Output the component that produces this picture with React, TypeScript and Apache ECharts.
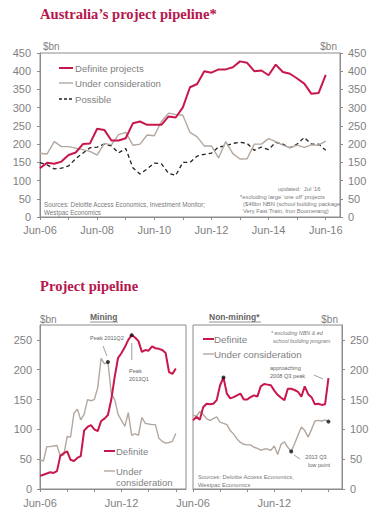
import React, { useEffect, useRef } from 'react';
import * as echarts from 'echarts';

const QUARTERS = ['Jun-06','Sep-06','Dec-06','Mar-07','Jun-07','Sep-07','Dec-07','Mar-08','Jun-08','Sep-08','Dec-08','Mar-09','Jun-09','Sep-09','Dec-09','Mar-10','Jun-10','Sep-10','Dec-10','Mar-11','Jun-11','Sep-11','Dec-11','Mar-12','Jun-12','Sep-12','Dec-12','Mar-13','Jun-13','Sep-13','Dec-13','Mar-14','Jun-14','Sep-14','Dec-14','Mar-15','Jun-15','Sep-15','Dec-15','Mar-16','Jun-16','Sep-16','Dec-16','Mar-17','Jun-17'];
const TOP_CATEGORIES = QUARTERS.slice(0, 43);
const MINING_CATEGORIES = QUARTERS.slice(0, 44);
const NONMINING_CATEGORIES = QUARTERS.slice(0, 45);

const TOP_Y_MAX = 450;
const TOP_Y_STEP = 50;
const BOTTOM_Y_TICKS = [0, 50, 100, 150, 200, 250];
const BOTTOM_Y_MAX = 275;

// Australia's project pipeline ($bn), quarterly Jun-06 .. Jun-16
const topDefinite = [134,149,146,152,170,177,200,202,242,239,210,210,216,257,262,253,253,253,276,273,301,356,365,400,396,405,405,411,427,423,400,402,389,418,398,393,380,366,338,340,390];
const topUnder = [175,173,207,193,193,189,185,180,170,202,198,226,232,197,200,225,223,262,285,281,279,232,220,195,195,162,207,174,159,160,200,200,215,207,197,190,197,191,198,197,208];
const topPossible = [149,143,132,134,140,160,175,190,192,200,195,176,188,135,118,132,148,146,120,114,150,150,167,172,175,192,195,202,205,202,183,192,185,205,200,190,200,218,200,200,183];

// Mining
const miningDefinite = [22,24,26,28,27,30,56,60,63,49,47,52,55,98,104,107,100,97,114,118,124,150,188,220,228,238,250,258,254,248,230,233,232,239,236,235,233,228,196,193,202];
const miningUnder = [49,47,71,71,72,73,55,57,88,87,127,134,116,125,150,148,150,170,219,210,213,160,150,125,115,105,128,90,93,90,120,110,109,108,108,85,80,77,78,80,93];
const MINING_UNDER_DOTS = [20];
const MINING_DEFINITE_DOTS = [27];

// Non-mining
const nonMiningDefinite = [115,121,116,137,143,142,143,149,174,187,160,152,154,157,160,150,150,154,157,155,172,176,175,174,165,158,153,149,168,168,166,163,155,172,159,154,142,143,141,142,186];
const nonMiningUnder = [124,122,130,125,118,115,118,121,112,110,108,98,92,84,78,75,74,74,70,68,65,67,67,65,72,58,75,79,70,63,76,90,104,98,87,100,114,115,114,116,113];
const NONMINING_DEFINITE_DOTS = [9];
const NONMINING_UNDER_DOTS = [29, 40];

const RED = '#c8174b';
const TAUPE = '#b3a79e';
const AXIS = '#8c8c8c';
const LABEL = '#7f7f7f';
const NOTE = '#7a7a7a';
const TITLE = '#b5174d';
const SANS = '"Liberation Sans", Arial, sans-serif';
const SERIF = '"Liberation Serif", "Times New Roman", serif';

function txt(x: number, y: number, text: string, size: number, opts: any = {}) {
  return {
    type: 'text',
    x,
    y,
    z: 100,
    style: {
      text,
      fill: opts.fill || NOTE,
      fontSize: size,
      fontFamily: opts.family || SANS,
      fontWeight: opts.weight || 'normal',
      fontStyle: opts.style || 'normal',
      align: opts.align || 'left',
      verticalAlign: 'middle',
    },
  };
}
function ln(x1: number, y1: number, x2: number, y2: number, color: string, width = 1, dash?: number[]) {
  return {
    type: 'line',
    z: 100,
    shape: { x1, y1, x2, y2 },
    style: { stroke: color, lineWidth: width, lineDash: dash },
  };
}

function xAxisBase(gridIndex: number, data: string[], labelInterval: number, tickInterval: number, margin: number) {
  return {
    gridIndex,
    type: 'category',
    data,
    boundaryGap: false,
    axisLine: { show: true, lineStyle: { color: AXIS, width: 1 } },
    axisTick: { show: true, interval: tickInterval, length: 3, lineStyle: { color: AXIS } },
    axisLabel: { interval: labelInterval, color: LABEL, fontSize: 11, fontFamily: SANS, margin },
    splitLine: { show: false },
  };
}

export default function App() {
  const ref = useRef<HTMLDivElement>(null);
  useEffect(() => {
    if (!ref.current) return;
    const chart = echarts.init(ref.current, undefined, { renderer: 'svg' });
    const dots = (arr: number[], idx: number[]) => idx.map((i) => [i, arr[i]]);
    const lineSeries = (name: string, xi: number, yi: number, data: number[], color: string, width: number, type: any = 'solid') => ({
      name,
      type: 'line',
      xAxisIndex: xi,
      yAxisIndex: yi,
      data,
      showSymbol: false,
      symbol: 'none',
      lineStyle: { color, width, type },
      z: 3,
    });
    const dotSeries = (xi: number, yi: number, data: any[]) => ({
      type: 'scatter',
      xAxisIndex: xi,
      yAxisIndex: yi,
      data,
      symbolSize: 4,
      itemStyle: { color: '#111' },
      z: 10,
    });
    const option: any = {
      animation: false,
      backgroundColor: '#ffffff',
      grid: [
        { left: 40, top: 53, width: 300, height: 164, show: true, borderColor: AXIS, borderWidth: 1, backgroundColor: 'transparent' },
        { left: 40, top: 325, width: 146, height: 164, show: true, borderColor: AXIS, borderWidth: 1, backgroundColor: 'transparent' },
        { left: 193, top: 325, width: 149, height: 164, show: true, borderColor: AXIS, borderWidth: 1, backgroundColor: 'transparent' },
      ],
      xAxis: [
        xAxisBase(0, TOP_CATEGORIES, 7, 3, 7),
        xAxisBase(1, MINING_CATEGORIES, 23, 7, 8),
        xAxisBase(2, NONMINING_CATEGORIES, 23, 7, 8),
      ],
      yAxis: [
        {
          gridIndex: 0, type: 'value', position: 'left', min: 0, max: TOP_Y_MAX, interval: TOP_Y_STEP,
          axisLine: { show: true, lineStyle: { color: AXIS } },
          axisTick: { show: true, length: 3, lineStyle: { color: AXIS } },
          axisLabel: { color: LABEL, fontSize: 11, fontFamily: SANS, margin: 9 },
          splitLine: { show: false },
        },
        {
          gridIndex: 0, type: 'value', position: 'right', min: 0, max: TOP_Y_MAX, interval: TOP_Y_STEP,
          axisLine: { show: true, lineStyle: { color: AXIS } },
          axisTick: { show: true, length: 3, lineStyle: { color: AXIS } },
          axisLabel: { color: LABEL, fontSize: 11, fontFamily: SANS, margin: 8 },
          splitLine: { show: false },
        },
        {
          gridIndex: 1, type: 'value', position: 'left', min: 0, max: BOTTOM_Y_MAX,
          axisLine: { show: true, lineStyle: { color: AXIS } },
          axisTick: { show: true, length: 3, lineStyle: { color: AXIS }, customValues: BOTTOM_Y_TICKS },
          axisLabel: { color: LABEL, fontSize: 11, fontFamily: SANS, margin: 8, customValues: BOTTOM_Y_TICKS },
          splitLine: { show: false },
        },
        {
          gridIndex: 2, type: 'value', position: 'right', min: 0, max: BOTTOM_Y_MAX,
          axisLine: { show: true, lineStyle: { color: AXIS } },
          axisTick: { show: true, length: 3, lineStyle: { color: AXIS }, customValues: BOTTOM_Y_TICKS },
          axisLabel: { color: LABEL, fontSize: 11, fontFamily: SANS, margin: 8, customValues: BOTTOM_Y_TICKS },
          splitLine: { show: false },
        },
      ],
      series: [
        lineSeries('Possible', 0, 0, topPossible, '#222', 1.3, [4, 3]),
        lineSeries('Under consideration', 0, 0, topUnder, TAUPE, 1.4),
        lineSeries('Definite projects', 0, 0, topDefinite, RED, 2),
        lineSeries('Mining under consideration', 1, 2, miningUnder, TAUPE, 1.4),
        lineSeries('Mining definite', 1, 2, miningDefinite, RED, 2),
        dotSeries(1, 2, dots(miningUnder, MINING_UNDER_DOTS)),
        dotSeries(1, 2, dots(miningDefinite, MINING_DEFINITE_DOTS)),
        lineSeries('Non-mining under consideration', 2, 3, nonMiningUnder, TAUPE, 1.4),
        lineSeries('Non-mining definite', 2, 3, nonMiningDefinite, RED, 2),
        dotSeries(2, 3, dots(nonMiningDefinite, NONMINING_DEFINITE_DOTS)),
        dotSeries(2, 3, dots(nonMiningUnder, NONMINING_UNDER_DOTS)),
      ],
      graphic: [
        // Top chart
        txt(40, 14, 'Australia\u2019s project pipeline*', 14.6, { fill: TITLE, family: SERIF, weight: 'bold' }),
        txt(43, 46, '$bn', 10, { fill: LABEL }),
        txt(337, 46, '$bn', 10, { fill: LABEL, align: 'right' }),
        ln(59, 68, 73, 68, RED, 2),
        txt(75, 68, 'Definite projects', 9.6, { fill: LABEL }),
        ln(59, 83, 73, 83, TAUPE, 1.4),
        txt(75, 83, 'Under consideration', 9.6, { fill: LABEL }),
        ln(59, 99, 73, 99, '#222', 1.3, [3, 2]),
        txt(75, 99, 'Possible', 9.6, { fill: LABEL }),
        txt(44, 204, 'Sources: Deloitte Access Economics, Investment Monitor;', 6.3),
        txt(44, 212, 'Westpac Economics', 6.3),
        txt(278, 189, 'updated:  Jul \u201916', 5.8),
        txt(240, 197, '*excluding large \u2018one off\u2019 projects', 5.8),
        txt(243, 204, '($46bn NBN (school building package', 5.8),
        txt(243, 211, 'Very Fast Train, Iron Boomerang)', 5.8),

        // Bottom section
        txt(40, 286, 'Project pipeline', 14.6, { fill: TITLE, family: SERIF, weight: 'bold' }),
        txt(40, 319, '$bn', 10, { fill: LABEL }),
        txt(90, 317, 'Mining', 8.5, { fill: '#666', weight: 'bold' }),
        ln(90, 322, 118, 322, '#777', 0.8),
        txt(209, 317, 'Non-mining*', 8.5, { fill: '#666', weight: 'bold' }),
        ln(209, 322, 261, 322, '#777', 0.8),
        txt(338, 319, '$bn', 10, { fill: LABEL, align: 'right' }),

        // Mining annotations
        txt(90, 338, 'Peak 2011Q2', 5.6, { fill: '#666' }),
        ln(103, 346, 107, 356, '#888', 0.8),
        ln(131.8, 343, 131.8, 360, '#888', 0.8),
        txt(129, 371, 'Peak', 5.6, { fill: '#666' }),
        txt(129, 379, '2013Q1', 5.6, { fill: '#666' }),
        ln(104, 451, 115, 451, RED, 2),
        txt(116, 451, 'Definite', 9.5, { fill: LABEL }),
        ln(104, 471, 115, 471, TAUPE, 1.4),
        txt(116, 471, 'Under', 9.5, { fill: LABEL }),
        txt(116, 482, 'consideration', 9.5, { fill: LABEL }),

        // Non-mining annotations
        ln(203, 339, 214, 339, RED, 2),
        txt(214, 339, 'Definite', 9.8, { fill: LABEL }),
        ln(203, 354, 214, 354, TAUPE, 1.4),
        txt(214, 354, 'Under consideration', 9.8, { fill: LABEL }),
        txt(271, 333, '* excluding NBN & ed', 5.4, { fill: '#777', style: 'italic' }),
        txt(273, 341, 'school building program', 5.4, { fill: '#777', style: 'italic' }),
        txt(270, 368, 'approaching', 5.6, { fill: '#666' }),
        txt(270, 376, '2008 Q3 peak', 5.6, { fill: '#666' }),
        ln(314, 375, 323, 379, '#888', 0.8),
        ln(294, 455, 300, 459, '#888', 0.8),
        txt(316, 457, '2013 Q3', 5.6, { fill: '#666', align: 'center' }),
        txt(319, 465, 'low point', 5.6, { fill: '#666', align: 'center' }),
        txt(198, 477, 'Sources: Deloitte Access Economics,', 5.8),
        txt(198, 485, 'Westpac Economics', 5.8),
      ],
    };
    chart.setOption(option);
    return () => chart.dispose();
  }, []);
  return (
    <div style={{ position: 'absolute', left: 0, top: 0, width: 390, height: 523, background: '#fff' }}>
      <div ref={ref} style={{ width: 390, height: 523 }} />
    </div>
  );
}
